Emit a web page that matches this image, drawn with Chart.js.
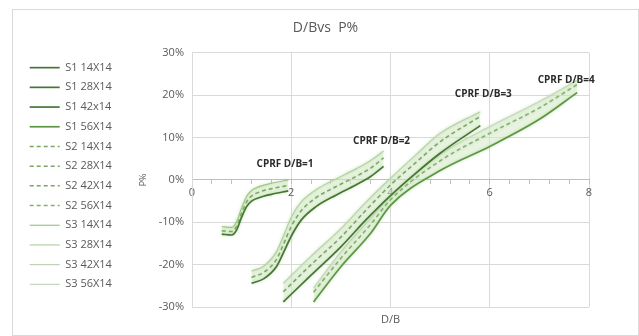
<!DOCTYPE html>
<html>
<head>
<meta charset="utf-8">
<script src="https://cdn.jsdelivr.net/npm/chart.js@4.4.1/dist/chart.umd.min.js"></script>
<style>
  html, body { margin: 0; padding: 0; background: #ffffff; }
  #wrap { width: 639px; height: 336px; }
</style>
</head>
<body>
<div id="wrap"><canvas id="c" width="639" height="336"></canvas></div>
<script>
// ---- Data ----
const seriesNames = ['S1 14X14','S1 28X14','S1 42x14','S1 56X14',
                     'S2 14X14','S2 28X14','S2 42X14','S2 56X14',
                     'S3 14X14','S3 28X14','S3 42X14','S3 56X14'];

// Group CPRF D/B=1
const g1X  = [0.6, 0.8, 0.9, 1.0, 1.1, 1.2, 1.35, 1.6, 1.94];
const g1S1 = [-12.8, -13.0, -11.8, -8.8, -6.3, -5.0, -4.2, -3.4, -2.6];
const g1S2 = [-12.0, -12.2, -10.9, -7.8, -5.2, -3.8, -2.9, -2.1, -1.3];
const g1S3 = [-11.0, -11.2, -9.8, -6.6, -3.9, -2.5, -1.6, -0.8, 0.0];

// Group CPRF D/B=2
const g2X  = [1.2, 1.45, 1.7, 1.85, 2.0, 2.2, 2.5, 2.9, 3.3, 3.6, 3.86];
const g2S1 = [-24.4, -23.3, -20.5, -17.0, -13.3, -9.5, -6.3, -3.6, -1.2, 0.8, 3.2];
const g2S2 = [-23.0, -21.8, -18.8, -15.0, -11.0, -7.3, -4.2, -1.6, 0.8, 2.8, 5.2];
const g2S3 = [-21.5, -20.3, -17.0, -13.0, -8.8, -5.2, -2.3, 0.2, 2.6, 4.6, 6.8];

// Group CPRF D/B=3
const g3X  = [1.84, 2.4, 3.0, 3.5, 4.0, 4.5, 5.0, 5.81];
const g3S1 = [-28.8, -22.5, -15.8, -9.5, -3.7, 1.5, 6.3, 12.8];
const g3S2 = [-26.4, -20.0, -13.5, -7.2, -1.2, 4.0, 9.0, 15.0];
const g3S3 = [-24.4, -18.0, -11.5, -5.3, 0.4, 5.8, 11.0, 16.1];

// Group CPRF D/B=4
const g4X  = [2.45, 3.0, 3.6, 4.0, 5.0, 6.0, 7.0, 7.76];
const g4S1 = [-28.8, -20.5, -12.6, -6.0, 2.2, 7.9, 14.3, 20.6];
const g4S2 = [-26.5, -18.5, -10.5, -4.7, 4.5, 11.0, 17.0, 22.5];
const g4S3 = [-25.5, -17.0, -9.0, -3.8, 6.0, 12.6, 18.5, 23.5];

const yTicks = [-30, -20, -10, 0, 10, 20, 30];

const groupLabels = ['CPRF D/B=1','CPRF D/B=2','CPRF D/B=3','CPRF D/B=4'];
const groupLabelX = [1.875, 3.82, 5.87, 7.54];
const groupLabelY = [3.8, 9.2, 20.3, 23.6];

// ---- Build datasets ----
function pts(xs, ys) { return xs.map((x, i) => ({ x: x, y: ys[i] })); }
const groupsX  = [g1X, g2X, g3X, g4X];
const groupsS1 = [g1S1, g2S1, g3S1, g4S1];
const groupsS2 = [g1S2, g2S2, g3S2, g4S2];
const groupsS3 = [g1S3, g2S3, g3S3, g4S3];

const s1Colors = ['#467536', '#467536', '#467536', '#5c9843'];
const s2Colors = ['#78a663', '#78a663', '#78a663', '#84af6e'];
const s3Colors = ['#9dc689', '#b3d2a3', '#bcd3b1', '#c6d6bd'];

const datasets = [];
for (let k = 0; k < 4; k++) {
  datasets.push({
    label: seriesNames[k], data: pts(groupsX[k], groupsS1[k]),
    borderColor: s1Colors[k], backgroundColor: s1Colors[k], borderWidth: 1.7,
    pointRadius: 0, showLine: true, fill: false, cubicInterpolationMode: 'monotone'
  });
}
for (let k = 0; k < 4; k++) {
  datasets.push({
    label: seriesNames[4 + k], data: pts(groupsX[k], groupsS2[k]),
    borderColor: s2Colors[k], backgroundColor: s2Colors[k], borderWidth: 1.5, borderDash: [4, 3],
    pointRadius: 0, showLine: true, fill: false, cubicInterpolationMode: 'monotone'
  });
}
for (let k = 0; k < 4; k++) {
  datasets.push({
    label: seriesNames[8 + k], data: pts(groupsX[k], groupsS3[k]),
    borderColor: s3Colors[k], backgroundColor: 'rgba(214,234,200,0.55)', borderWidth: 1.2,
    pointRadius: 0, showLine: true, fill: { target: k }, cubicInterpolationMode: 'monotone'
  });
}

const isMajor = v => Math.abs(v / 2 - Math.round(v / 2)) < 1e-6;
const grey = '#595959';
const fontFam = '"Open Sans", "Liberation Sans", sans-serif';

const framePlugin = {
  id: 'frame',
  beforeDraw(chart) {
    const ctx = chart.ctx;
    ctx.save();
    ctx.fillStyle = '#ffffff';
    ctx.fillRect(0, 0, chart.width, chart.height);
    ctx.strokeStyle = '#d9d9d9';
    ctx.lineWidth = 1;
    ctx.strokeRect(12.5, 9.5, 626, 326);
    ctx.restore();
  }
};

const glowPlugin = {
  id: 'glow',
  beforeDatasetDraw(chart) {
    chart.ctx.save();
    chart.ctx.shadowColor = 'rgba(160,210,130,0.7)';
    chart.ctx.shadowBlur = 3;
  },
  afterDatasetDraw(chart) {
    chart.ctx.restore();
  }
};

const groupLabelPlugin = {
  id: 'groupLabels',
  afterDatasetsDraw(chart) {
    const ctx = chart.ctx;
    const xs = chart.scales.x, ys = chart.scales.y;
    ctx.save();
    ctx.font = 'bold 10px ' + fontFam;
    ctx.fillStyle = '#2b2b2b';
    ctx.textAlign = 'center';
    ctx.textBaseline = 'middle';
    groupLabels.forEach((t, i) => {
      ctx.fillText(t, xs.getPixelForValue(groupLabelX[i]), ys.getPixelForValue(groupLabelY[i]));
    });
    ctx.restore();
  }
};

new Chart(document.getElementById('c'), {
  type: 'scatter',
  data: { datasets: datasets },
  plugins: [framePlugin, glowPlugin, groupLabelPlugin],
  options: {
    responsive: false,
    animation: false,
    layout: { padding: { left: 21, right: 9, top: 16, bottom: 0 } },
    plugins: {
      title: {
        display: true, text: 'D/Bvs  P%', color: grey,
        font: { family: fontFam, size: 14, weight: 'normal' },
        padding: { top: 4, bottom: 16 }
      },
      legend: {
        position: 'left',
        labels: {
          usePointStyle: true, pointStyle: 'line', pointStyleWidth: 30,
          color: grey, padding: 8.7,
          font: { family: fontFam, size: 11 },
          generateLabels: chart => Chart.defaults.plugins.legend.labels.generateLabels(chart).map(it => {
            const ds = chart.data.datasets[it.datasetIndex];
            it.lineDash = ds.borderDash || [];
            it.strokeStyle = ds.borderColor;
            it.lineWidth = ds.borderWidth;
            it.pointStyle = 'line';
            return it;
          })
        }
      },
      tooltip: { enabled: false }
    },
    scales: {
      x: {
        type: 'linear', position: { y: 0 }, min: 0, max: 8,
        ticks: {
          stepSize: 0.4, autoSkip: false, maxRotation: 0, padding: 2,
          color: grey, font: { family: fontFam, size: 11 },
          callback: v => isMajor(v) ? String(Math.round(v)) : ''
        },
        grid: {
          color: c => (c.tick && isMajor(c.tick.value)) ? '#d9d9d9' : 'rgba(0,0,0,0)',
          tickColor: '#bfbfbf', tickLength: 4, lineWidth: 1
        },
        border: { color: '#bfbfbf', width: 1 }
      },
      x2: {
        type: 'linear', position: 'bottom', min: 0, max: 8,
        ticks: { display: false },
        grid: { display: false, drawTicks: false },
        border: { display: false },
        title: { display: true, text: 'D/B', color: grey, font: { family: fontFam, size: 11 }, padding: { top: 0, bottom: 10 } },
        afterFit: s => { s.height = 29; }
      },
      y: {
        type: 'linear', min: -30, max: 30,
        afterBuildTicks: s => { s.ticks = yTicks.map(v => ({ value: v })); },
        ticks: { color: grey, font: { family: fontFam, size: 11 }, padding: 8, callback: v => v + '%' },
        grid: { color: '#d9d9d9', drawTicks: false },
        border: { color: '#d9d9d9' },
        title: { display: true, text: 'P%', color: grey, font: { family: fontFam, size: 9 }, padding: { top: 16, bottom: 0 } },
        afterFit: s => { s.width = Math.max(20, 192 - 21 - (s.chart.legend ? s.chart.legend.width : 100)); }
      },
      y2: {
        type: 'linear', position: 'right', min: -30, max: 30,
        ticks: { display: false },
        grid: { display: false, drawTicks: false },
        border: { display: false },
        afterFit: s => { s.width = 41; }
      }
    }
  }
});
</script>
</body>
</html>
